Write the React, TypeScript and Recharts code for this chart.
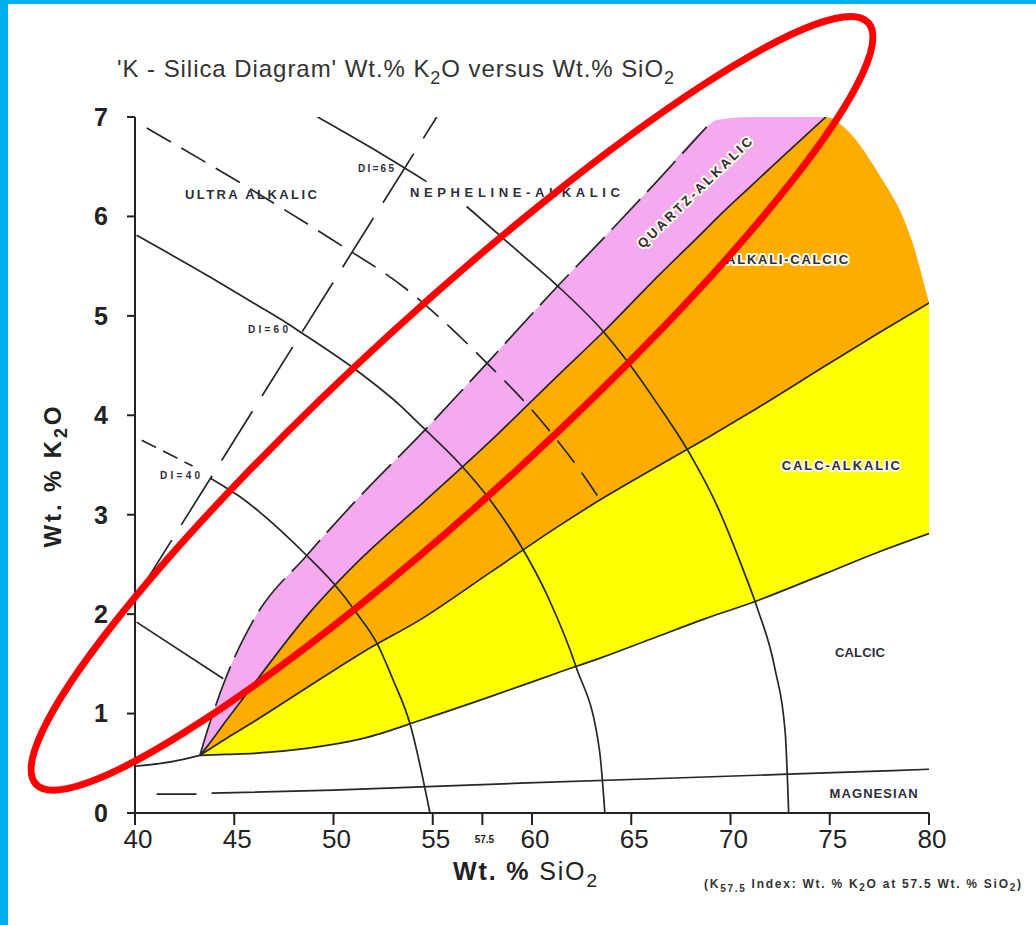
import React from 'react';
import { ComposedChart, Area, Line, XAxis, YAxis, ReferenceDot } from 'recharts';

const SIO2_TICKS = [40, 45, 50, 55, 57.5, 60, 65, 70, 75, 80];
const K2O_TICKS = [0, 1, 2, 3, 4, 5, 6, 7];

// coloured fields, rows are [SiO2, lower K2O, upper K2O]
const quartzAlkalicField = [
  [43.27, 0.58, 0.58], [43.6, 0.66, 0.8], [44.6, 0.93, 1.37], [46.0, 1.3, 1.95],
  [48.65, 1.98, 2.59], [51.5, 2.58, 3.22], [54.5, 3.12, 3.83], [57.9, 3.74, 4.56],
  [61.3, 4.4, 5.3], [63.6, 4.84, 5.78], [66.0, 5.33, 6.29], [68.8, 5.88, 6.9],
  [69.3, 5.98, 6.97], [71.0, 6.3, 7.0], [74.8, 7.0, 7.0],
];
const alkaliCalcicField = [
  [43.27, 0.58, 0.58], [44.6, 0.75, 0.93], [46.0, 0.92, 1.3], [48.65, 1.26, 1.98],
  [51.5, 1.62, 2.58], [54.5, 1.96, 3.12], [57.9, 2.42, 3.74], [61.3, 2.88, 4.4],
  [63.6, 3.17, 4.84], [66.0, 3.45, 5.33], [68.8, 3.77, 5.88], [71.0, 4.03, 6.3],
  [74.8, 4.5, 7.0], [75.7, 4.61, 6.9], [77.4, 4.82, 6.45], [79.1, 5.03, 5.78], [80, 5.13, 5.13],
];
const calcAlkalicField = [
  [43.27, 0.58, 0.58], [44.6, 0.59, 0.75], [46.0, 0.6, 0.92], [48.65, 0.65, 1.26],
  [51.5, 0.75, 1.62], [54.5, 0.94, 1.96], [57.9, 1.17, 2.42], [61.3, 1.41, 2.88],
  [63.6, 1.57, 3.17], [66.0, 1.75, 3.45], [68.8, 1.96, 3.77], [71.0, 2.11, 4.03],
  [74.8, 2.41, 4.5], [77.4, 2.62, 4.82], [80, 2.81, 5.13],
];

// divider curves, [SiO2, K2O]
const ultraAlkalicDashed = [
  [40.59, 6.89], [45.45, 6.32], [49.98, 5.76], [53.6, 5.28], [57.4, 4.59],
  [60.57, 3.92], [62.76, 3.35], [63.43, 3.15],
];
const nephelineDashed = [[40.3, 2.25], [55.2, 7.0]];
const di40Dashed = [[40.34, 3.75], [42.9, 3.49]];
const di40Curve = [
  [43.78, 3.37], [45.29, 3.18], [48.65, 2.59], [50.0, 2.31], [51.17, 2.01],
  [52.18, 1.71], [53.0, 1.34], [53.85, 0.9], [54.86, 0],
];
const di60Curve = [
  [40.08, 5.81], [43.78, 5.39], [45.88, 5.14], [47.47, 4.95], [48.31, 4.84],
  [51.17, 4.45], [53.35, 4.1], [54.44, 3.89], [56.37, 3.51], [57.88, 3.15],
  [59.4, 2.7], [60.81, 2.17], [62.2, 1.48], [63.4, 0.63], [63.67, 0],
];
const di65Upper = [[49.2, 7.0], [51.9, 6.69], [54.69, 6.35]];
const di65Lower = [
  [56.71, 6.1], [59.23, 5.66], [61.24, 5.31], [63.6, 4.84], [64.77, 4.55],
  [66.3, 4.12], [67.87, 3.64], [69.3, 3.1], [70.65, 2.44], [71.37, 2.05],
  [72.24, 1.45], [72.76, 0.8], [72.93, 0],
];
const lowDiLine = [[40.08, 1.92], [44.45, 1.35]];
const baseLine = [[40, 0.47], [41.93, 0.52], [43.27, 0.58]];
const magnesianDash = [[41.09, 0.19], [43.1, 0.19]];
const magnesianLine = [[43.86, 0.2], [50, 0.23], [59.4, 0.3], [72.9, 0.39], [80, 0.44]];

const fieldLabels = [
  { text: 'ULTRA ALKALIC', x: 45.84, y: 6.22, w: 132 },
  { text: 'NEPHELINE-ALKALIC', x: 59.14, y: 6.24, w: 210 },
  { text: 'QUARTZ-ALKALIC', x: 68.2, y: 6.24, w: 153, angle: -44, halo: true },
  { text: 'ALKALI-CALCIC', x: 72.85, y: 5.57, w: 122, halo: true },
  { text: 'CALC-ALKALIC', x: 75.56, y: 3.49, w: 118, halo: true },
  { text: 'CALCIC', x: 76.52, y: 1.61, w: 50 },
  { text: 'MAGNESIAN', x: 77.21, y: 0.2, w: 88 },
  { text: 'DI=65', x: 52.14, y: 6.48, w: 36, small: true },
  { text: 'DI=60', x: 46.7, y: 4.86, w: 40, small: true },
  { text: 'DI=40', x: 42.27, y: 3.39, w: 40, small: true },
];

const INK = '#262626';
const FONT = '"Liberation Sans", Arial, sans-serif';

const toPoints = (rows: number[][]) => rows.map(([x, y]) => ({ x, y }));
const toBand = (rows: number[][]) => rows.map(([x, lo, hi]) => ({ x, band: [lo, hi] }));
const lowerEdge = (rows: number[][]) => rows.map(([x, lo]) => [x, lo]);
const upperEdge = (rows: number[][]) => rows.map(([x, , hi]) => [x, hi]);

const SilicaTick = ({ x, y, payload }: any) => {
  const small = payload.value === 57.5;
  return (
    <text
      x={x + (small ? 2 : 3)}
      y={y}
      dy={small ? 14 : 19}
      textAnchor="middle"
      fontSize={small ? 10 : 26}
      fontWeight={small ? 700 : 400}
      fill="#222"
      fontFamily={FONT}
    >
      {payload.value}
    </text>
  );
};

const FieldLabel = ({ cx, cy, label }: any) => (
  <text
    x={cx}
    y={cy}
    textAnchor="middle"
    dominantBaseline="central"
    fontFamily={FONT}
    fontWeight={700}
    fontSize={label.small ? 10 : 13}
    textLength={label.w}
    lengthAdjust="spacing"
    fill="#2d2d3c"
    stroke={label.halo ? '#fffbe8' : 'none'}
    strokeWidth={label.halo ? 4 : 0}
    strokeLinejoin="round"
    paintOrder="stroke"
    transform={label.angle ? `rotate(${label.angle} ${cx} ${cy})` : undefined}
  >
    {label.text}
  </text>
);

const curve = (key: string, rows: number[][], dash?: string, type: any = 'monotone') => (
  <Line
    key={key}
    data={toPoints(rows)}
    dataKey="y"
    type={type}
    stroke={INK}
    strokeWidth={1.7}
    strokeDasharray={dash}
    dot={false}
    activeDot={false}
    isAnimationActive={false}
  />
);

export default function App() {
  return (
    <div style={{ position: 'absolute', left: 0, top: 0, width: 1036, height: 925, background: '#fff', overflow: 'hidden' }}>
      <ComposedChart width={1036} height={925} margin={{ top: 117, right: 107, bottom: 52, left: 35 }}>
        <XAxis
          type="number"
          dataKey="x"
          domain={[40, 80]}
          ticks={SIO2_TICKS}
          allowDataOverflow
          interval={0}
          height={60}
          tickSize={12}
          tickMargin={4}
          tick={<SilicaTick />}
          axisLine={{ stroke: '#222', strokeWidth: 2 }}
          tickLine={{ stroke: '#222', strokeWidth: 2 }}
        />
        <YAxis
          type="number"
          domain={[0, 7]}
          ticks={K2O_TICKS}
          allowDataOverflow
          interval={0}
          width={100}
          tickSize={8}
          tickMargin={19}
          tick={{ fontSize: 25, fontWeight: 700, fill: '#222', fontFamily: FONT }}
          axisLine={{ stroke: '#222', strokeWidth: 2 }}
          tickLine={{ stroke: '#222', strokeWidth: 2 }}
        />

        <Area data={toBand(calcAlkalicField)} dataKey="band" type="monotone" stroke="none" fill="#ffff00" fillOpacity={1} dot={false} activeDot={false} isAnimationActive={false} />
        <Area data={toBand(alkaliCalcicField)} dataKey="band" type="monotone" stroke="none" fill="#fdad00" fillOpacity={1} dot={false} activeDot={false} isAnimationActive={false} />
        <Area data={toBand(quartzAlkalicField)} dataKey="band" type="monotone" stroke="none" fill="#f5aaf0" fillOpacity={1} dot={false} activeDot={false} isAnimationActive={false} />

        {curve('calcic', lowerEdge(calcAlkalicField))}
        {curve('calcAlkalic', upperEdge(calcAlkalicField))}
        {curve('quartz', lowerEdge(quartzAlkalicField))}
        {curve('quartzTop', upperEdge(quartzAlkalicField.filter(r => r[0] <= 68.8)), '42 10')}
        {curve('ultra', ultraAlkalicDashed, '28 12')}
        {curve('neph', nephelineDashed, '58 18', 'linear')}
        {curve('di40d', di40Dashed, '16 8', 'linear')}
        {curve('di40', di40Curve)}
        {curve('di60', di60Curve)}
        {curve('di65a', di65Upper)}
        {curve('di65b', di65Lower)}
        {curve('lowDi', lowDiLine, undefined, 'linear')}
        {curve('base', baseLine)}
        {curve('magDash', magnesianDash, undefined, 'linear')}
        {curve('mag', magnesianLine)}

        {fieldLabels.map(l => (
          <ReferenceDot key={l.text} x={l.x} y={l.y} r={0} ifOverflow="visible" shape={(p: any) => <FieldLabel cx={p.cx} cy={p.cy} label={l} />} />
        ))}

        <ReferenceDot
          x={55.97}
          y={4.12}
          r={0}
          ifOverflow="visible"
          shape={(p: any) => (
            <ellipse cx={p.cx} cy={p.cy} rx={564} ry={93} transform={`rotate(-42.45 ${p.cx} ${p.cy})`} fill="none" stroke="#ff0000" strokeWidth={7} />
          )}
        />
      </ComposedChart>

      <svg width={1036} height={925} style={{ position: 'absolute', left: 0, top: 0, pointerEvents: 'none' }}>
        <text x={117} y={77} fontSize={24} fill="#333" fontFamily={FONT} textLength={557} lengthAdjust="spacing">
          'K - Silica Diagram' Wt.% K<tspan dy={7} fontSize={18}>2</tspan>
          <tspan dy={-7}>O versus Wt.% SiO</tspan>
          <tspan dy={7} fontSize={18}>2</tspan>
        </text>
        <text transform="translate(61 477) rotate(-90)" textAnchor="middle" fontSize={24} fontWeight={700} fill="#222" fontFamily={FONT} textLength={141} lengthAdjust="spacing">
          Wt. % K<tspan dy={6} fontSize={18}>2</tspan>
          <tspan dy={-6}>O</tspan>
        </text>
        <text x={453} y={880} fontSize={25} fill="#222" fontFamily={FONT} textLength={144} lengthAdjust="spacing">
          <tspan fontWeight={700}>Wt. %</tspan> SiO<tspan dy={7} fontSize={19}>2</tspan>
        </text>
        <text x={704} y={888} fontSize={12} fontWeight={700} fill="#333" fontFamily={FONT} textLength={317} lengthAdjust="spacing">
          (K<tspan dy={4} fontSize={10}>57.5</tspan>
          <tspan dy={-4}> Index: Wt. % K</tspan>
          <tspan dy={3} fontSize={10}>2</tspan>
          <tspan dy={-3}>O at 57.5 Wt. % SiO</tspan>
          <tspan dy={3} fontSize={10}>2</tspan>
          <tspan dy={-3}>)</tspan>
        </text>
      </svg>

      <div style={{ position: 'absolute', left: 0, top: 0, width: 8, height: 925, background: '#00b0ef' }} />
      <div style={{ position: 'absolute', left: 0, top: 0, width: 1036, height: 4, background: '#00b0ef' }} />
    </div>
  );
}
